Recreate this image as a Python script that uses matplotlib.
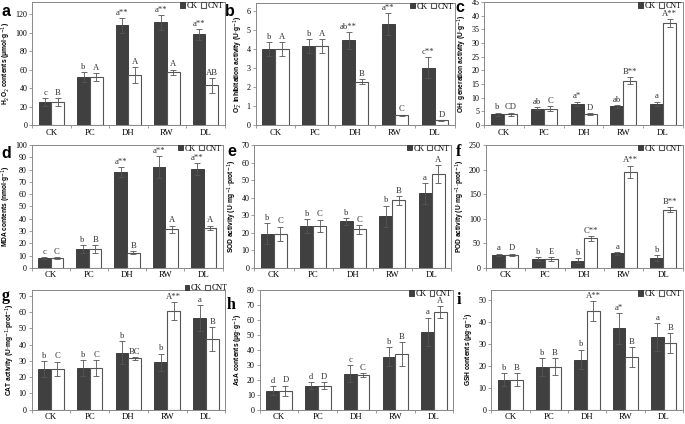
import numpy as np
import matplotlib.pyplot as plt

groups = ["CK", "PC", "DH", "RW", "DL"]

# a H2O2
h2o2_ck = [25, 52, 108, 111, 98]
h2o2_ck_err = [4, 5, 8, 8, 6]
h2o2_cnt = [25, 52, 54, 57, 43]
h2o2_cnt_err = [4, 4, 9, 3, 8]
h2o2_ck_lab = ["c", "b", "a**", "a**", "a**"]
h2o2_cnt_lab = ["B", "A", "A", "A", "AB"]

# b O2-
o2_ck = [4.0, 4.18, 4.48, 5.33, 3.03]
o2_ck_err = [0.37, 0.37, 0.45, 0.58, 0.55]
o2_cnt = [4.0, 4.18, 2.28, 0.52, 0.25]
o2_cnt_err = [0.37, 0.37, 0.13, 0.03, 0.03]
o2_ck_lab = ["b", "b", "ab**", "a**", "c**"]
o2_cnt_lab = ["A", "A", "B", "C", "D"]

# c OH
oh_ck = [4.0, 6.0, 7.8, 6.8, 7.8]
oh_ck_err = [0.6, 0.6, 0.8, 0.6, 0.8]
oh_cnt = [4.0, 6.0, 4.0, 16.3, 37.3]
oh_cnt_err = [0.6, 0.8, 0.3, 1.2, 1.5]
oh_ck_lab = ["b", "ab", "a*", "ab", "a"]
oh_cnt_lab = ["CD", "C", "D", "B**", "A**"]

# d MDA
mda_ck = [8, 15.5, 78, 82, 80.5]
mda_ck_err = [1, 3, 4, 9, 4.5]
mda_cnt = [8, 15.5, 12.5, 31.5, 32.5]
mda_cnt_err = [1, 3, 1, 3, 2]
mda_ck_lab = ["c", "b", "a**", "a**", "a**"]
mda_cnt_lab = ["C", "B", "B", "A", "A"]

# e SOD
sod_ck = [19.5, 24, 26.5, 29.5, 42.5]
sod_ck_err = [6, 4, 2, 6, 6]
sod_cnt = [19.5, 24, 22, 38.5, 53.5]
sod_cnt_err = [4, 3.5, 2.5, 2.5, 5]
sod_ck_lab = ["b", "b", "b", "b", "a"]
sod_cnt_lab = ["C", "C", "C", "B", "A"]

# f POD
pod_ck = [27, 18, 15, 30, 20]
pod_ck_err = [2, 4, 5, 3, 6]
pod_cnt = [27, 18, 60, 195, 118]
pod_cnt_err = [2, 4, 5, 13, 5]
pod_ck_lab = ["a", "b", "b", "a", "b"]
pod_cnt_lab = ["D", "E", "C**", "A**", "B**"]

# g CAT
cat_ck = [25, 25.5, 35, 29, 56.5]
cat_ck_err = [5, 5, 7, 5.5, 8]
cat_cnt = [25, 25.5, 31.5, 60.5, 43.5]
cat_cnt_err = [4.5, 5, 1, 5.5, 7.5]
cat_ck_lab = ["b", "b", "b", "b", "a"]
cat_cnt_lab = ["C", "C", "BC", "A**", "B"]

# h AsA
asa_ck = [12.5, 16, 24, 35.5, 52]
asa_ck_err = [3, 2.5, 5.5, 6.5, 9.5]
asa_cnt = [12.5, 16, 23, 37, 65]
asa_cnt_err = [3.5, 2.5, 1.5, 8, 4]
asa_ck_lab = ["d", "d", "c", "b", "a"]
asa_cnt_lab = ["D", "D", "C", "B", "A"]

# i GSH
gsh_ck = [13.7, 19.5, 22.8, 37, 33]
gsh_ck_err = [2.8, 4, 4.5, 7, 6.5]
gsh_cnt = [13.7, 19.5, 45, 24, 30.3]
gsh_cnt_err = [2.8, 3.8, 4.5, 4.5, 4.5]
gsh_ck_lab = ["b", "b", "b", "a*", "a"]
gsh_cnt_lab = ["B", "B", "A**", "B", "B"]

serif = "Liberation Serif"
sans = "Liberation Sans"

fig = plt.figure(figsize=(6.85, 4.24), dpi=100)


def panel(rect, letter, lxy, ck, ckerr, cnt, cnterr, cklab, cntlab, ymax, step, ylabel,
          leg_x=1.0, leg_y=1.015):
    ax = fig.add_axes(rect)
    x = np.arange(len(groups))
    w = 0.33
    ax.bar(x - w / 2, ck, w, color="#404040", edgecolor="#303030", linewidth=0.6, label="CK")
    ax.bar(x + w / 2, cnt, w, color="white", edgecolor="#555555", linewidth=0.8, label="CNT")
    ax.errorbar(x - w / 2, ck, yerr=ckerr, fmt="none", ecolor="#555555", elinewidth=0.6, capsize=2, capthick=0.6)
    ax.errorbar(x + w / 2, cnt, yerr=cnterr, fmt="none", ecolor="#555555", elinewidth=0.6, capsize=2, capthick=0.6)
    off = ymax * 0.01
    for i in range(len(groups)):
        ax.text(x[i] - w / 2, ck[i] + ckerr[i] + off, cklab[i], ha="center", va="bottom",
                fontsize=6.2, family=serif, color="#333333")
        ax.text(x[i] + w / 2, cnt[i] + cnterr[i] + off, cntlab[i], ha="center", va="bottom",
                fontsize=6.2, family=serif, color="#333333")
    ax.set_xlim(-0.5, 4.5)
    ax.set_ylim(0, ymax)
    ax.set_yticks(np.arange(0, ymax + 0.001, step))
    ax.set_xticks(x)
    ax.set_xticklabels(groups, family=serif, fontsize=6.3)
    ax.set_xticks(np.arange(-0.5, 5, 1), minor=True)
    ax.tick_params(axis="x", which="major", length=0, pad=2.5)
    ax.tick_params(axis="x", which="minor", length=2, width=0.5, color="#777777")
    ax.tick_params(axis="y", length=2, width=0.5, labelsize=5.8, color="#777777", pad=1.5)
    for t in ax.get_yticklabels():
        t.set_family(serif)
    for s in ax.spines.values():
        s.set_color("#888888")
        s.set_linewidth(0.7)
    ax.set_ylabel(ylabel, family=sans, fontsize=4.8, fontweight="bold", labelpad=1.5)
    ax.legend(loc="upper right", bbox_to_anchor=(leg_x, leg_y), ncol=2, frameon=False,
              prop={"family": serif, "size": 5.8},
              handlelength=0.6, handleheight=0.6, handletextpad=0.2, columnspacing=0.4,
              borderaxespad=0.0, borderpad=0.2)
    fig.text(lxy[0] / 685, 1 - lxy[1] / 424, letter, fontsize=11.5, fontweight="bold",
             family=sans if letter in "abcde" else serif, ha="left", va="center")
    return ax


unit = "U·mg$^{-1}$·prot$^{-1}$"
panel([0.047, 0.705, 0.281, 0.290], "a", (2, 12), h2o2_ck, h2o2_ck_err, h2o2_cnt, h2o2_cnt_err,
      h2o2_ck_lab, h2o2_cnt_lab, 133, 20, "H$_2$O$_2$ contents (μmol·g$^{-1}$)")
panel([0.373, 0.705, 0.291, 0.288], "b", (225, 11), o2_ck, o2_ck_err, o2_cnt, o2_cnt_err,
      o2_ck_lab, o2_cnt_lab, 6.45, 1, "O$_2^{-}$ inhibitation activity (U·g$^{-1}$)")
panel([0.707, 0.705, 0.290, 0.290], "c", (455, 8), oh_ck, oh_ck_err, oh_cnt, oh_cnt_err,
      oh_ck_lab, oh_cnt_lab, 45, 5, "OH· generation activity (U·g$^{-1}$)")
panel([0.046, 0.368, 0.279, 0.290], "d", (1, 153), mda_ck, mda_ck_err, mda_cnt, mda_cnt_err,
      mda_ck_lab, mda_cnt_lab, 100, 10, "MDA contents (nmol·g$^{-1}$)")
panel([0.371, 0.368, 0.288, 0.290], "e", (227, 152), sod_ck, sod_ck_err, sod_cnt, sod_cnt_err,
      sod_ck_lab, sod_cnt_lab, 70, 10, "SOD activity (" + unit + ")")
panel([0.709, 0.368, 0.288, 0.290], "f", (456, 152), pod_ck, pod_ck_err, pod_cnt, pod_cnt_err,
      pod_ck_lab, pod_cnt_lab, 250, 50, "POD activity (" + unit + ")")
panel([0.046, 0.034, 0.283, 0.282], "g", (2, 296), cat_ck, cat_ck_err, cat_cnt, cat_cnt_err,
      cat_ck_lab, cat_cnt_lab, 73.6, 10, "CAT activity (" + unit + ")", leg_x=1.02, leg_y=1.06)
panel([0.379, 0.034, 0.283, 0.282], "h", (227, 305), asa_ck, asa_ck_err, asa_cnt, asa_cnt_err,
      asa_ck_lab, asa_cnt_lab, 80, 10, "AsA contents (μg·g$^{-1}$)")
panel([0.717, 0.034, 0.280, 0.282], "i", (457, 300), gsh_ck, gsh_ck_err, gsh_cnt, gsh_cnt_err,
      gsh_ck_lab, gsh_cnt_lab, 54.5, 10, "GSH contents (μg·g$^{-1}$)")

fig.savefig("out.png", dpi=100)
